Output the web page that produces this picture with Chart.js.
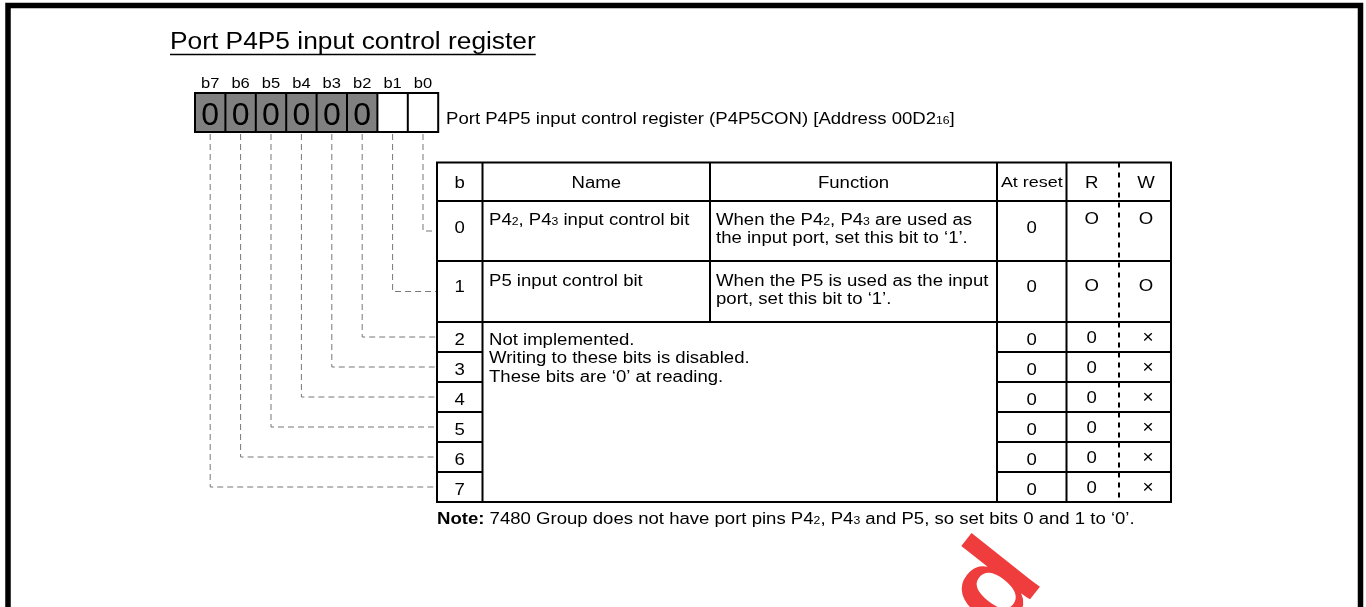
<!DOCTYPE html>
<html>
<head>
<meta charset="utf-8">
<script src="https://cdn.jsdelivr.net/npm/chart.js@4.4.0/dist/chart.umd.min.js"></script>
<style>
  html, body { margin: 0; padding: 0; background: #fff; overflow: hidden; }
  #wrap { width: 1366px; height: 607px; }
</style>
</head>
<body>
<div id="wrap"><canvas id="regChart"></canvas></div>
<script>
// register content ({n} = subscript)
const title = 'Port P4P5 input control register';
const regCaption = 'Port P4P5 input control register (P4P5CON) [Address 00D2{16}]';
const bitLabels = ['b7', 'b6', 'b5', 'b4', 'b3', 'b2', 'b1', 'b0'];
const bitFixed = ['0', '0', '0', '0', '0', '0', '', ''];
const headers = ['b', 'Name', 'Function', 'At reset', 'R', 'W'];
const rowBits = ['0', '1', '2', '3', '4', '5', '6', '7'];
const rowNames = ['P4{2}, P4{3} input control bit', 'P5 input control bit'];
const rowFunctions = [
  ['When the P4{2}, P4{3} are used as', 'the input port, set this bit to \u20181\u2019.'],
  ['When the P5 is used as the input', 'port, set this bit to \u20181\u2019.']
];
const reservedText = ['Not implemented.', 'Writing to these bits is disabled.', 'These bits are \u20180\u2019 at reading.'];
const atReset = ['0', '0', '0', '0', '0', '0', '0', '0'];
const readFlags = ['O', 'O', '0', '0', '0', '0', '0', '0'];
const writeFlags = ['O', 'O', '\u00d7', '\u00d7', '\u00d7', '\u00d7', '\u00d7', '\u00d7'];
const noteText = ' 7480 Group does not have port pins P4{2}, P4{3} and P5, so set bits 0 and 1 to \u20180\u2019.';

// layout (page units = pixels of the 1366x607 picture)
const FONT = '"Liberation Sans", Arial, sans-serif';
const SX = 1.16;  // the page is a little wider than tall, text stretched with it
const FS = 16;    // body text size
const regX0 = 195, regW = 30.4, regTop = 93, regBot = 132;
const colX = [437, 482.5, 710, 997, 1066.5, 1119, 1171];
const rowY = [162.5, 201, 261, 322, 352, 382, 412, 442, 472, 502];

function parts(str) {
  const out = [];
  const re = /\{([^}]*)\}/g;
  let last = 0, m;
  while ((m = re.exec(str))) {
    if (m.index > last) out.push([str.slice(last, m.index), false]);
    out.push([m[1], true]);
    last = re.lastIndex;
  }
  if (last < str.length) out.push([str.slice(last), false]);
  return out;
}

function drawText(ctx, str, x, y, size, align, bold, sx) {
  sx = sx || SX;
  const segs = parts(str);
  const f = s => (bold ? 'bold ' : '') + s + 'px ' + FONT;
  let w = 0;
  segs.forEach(p => { ctx.font = f(p[1] ? size * 0.66 : size); w += ctx.measureText(p[0]).width; });
  let x0 = x;
  if (align === 'center') x0 = x - w * sx / 2;
  if (align === 'right') x0 = x - w * sx;
  ctx.save();
  ctx.translate(x0, y + size * 0.36);
  ctx.scale(sx, 1);
  ctx.textBaseline = 'alphabetic';
  ctx.textAlign = 'left';
  ctx.fillStyle = '#000';
  let px = 0;
  segs.forEach(p => {
    ctx.font = f(p[1] ? size * 0.66 : size);
    ctx.fillText(p[0], px, p[1] ? size * 0.04 : 0);
    px += ctx.measureText(p[0]).width;
  });
  ctx.restore();
  return w * sx;
}

const registerPlugin = {
  id: 'registerPlugin',
  afterDraw(chart) {
    const ctx = chart.ctx;
    const xs = chart.scales.x, ys = chart.scales.y;
    const X = v => xs.getPixelForValue(v);
    const Y = v => ys.getPixelForValue(v);

    ctx.save();
    ctx.fillStyle = '#fff';
    ctx.fillRect(0, 0, chart.width, chart.height);

    // page frame
    ctx.strokeStyle = '#000';
    ctx.lineWidth = 5.5;
    ctx.beginPath();
    ctx.moveTo(X(8), Y(620));
    ctx.lineTo(X(8), Y(5.5));
    ctx.lineTo(X(1360.5), Y(5.5));
    ctx.lineTo(X(1360.5), Y(620));
    ctx.stroke();

    // title
    const tw = drawText(ctx, title, X(170), Y(41), 23.5, 'left', false, 1.12);
    ctx.lineWidth = 1.5;
    ctx.beginPath();
    ctx.moveTo(X(170), Y(54.5));
    ctx.lineTo(X(170) + tw, Y(54.5));
    ctx.stroke();

    // register boxes
    bitLabels.forEach((lab, i) => {
      const x0 = X(regX0 + i * regW), x1 = X(regX0 + (i + 1) * regW);
      ctx.fillStyle = bitFixed[i] !== '' ? '#808080' : '#fff';
      ctx.fillRect(x0, Y(regTop), x1 - x0, Y(regBot) - Y(regTop));
      drawText(ctx, lab, (x0 + x1) / 2, Y(83), 15, 'center', false, 1.1);
      if (bitFixed[i] !== '') drawText(ctx, bitFixed[i], (x0 + x1) / 2, Y(113), 32, 'center', false, 1.0);
    });
    ctx.strokeStyle = '#000';
    ctx.lineWidth = 2;
    ctx.strokeRect(X(regX0), Y(regTop), X(regX0 + 8 * regW) - X(regX0), Y(regBot) - Y(regTop));
    for (let i = 1; i < 8; i++) {
      ctx.beginPath();
      ctx.moveTo(X(regX0 + i * regW), Y(regTop));
      ctx.lineTo(X(regX0 + i * regW), Y(regBot));
      ctx.stroke();
    }
    drawText(ctx, regCaption, X(446), Y(118), FS, 'left');

    // leader lines from bits to rows
    ctx.strokeStyle = '#777';
    ctx.lineWidth = 1;
    ctx.setLineDash([6, 4]);
    bitLabels.forEach((lab, i) => {
      const bit = 7 - i;
      const cx = X(regX0 + (i + 0.5) * regW);
      const cy = Y((rowY[bit + 1] + rowY[bit + 2]) / 2);
      ctx.beginPath();
      ctx.moveTo(cx, Y(regBot + 2));
      ctx.lineTo(cx, cy);
      ctx.lineTo(X(colX[0]), cy);
      ctx.stroke();
    });
    ctx.setLineDash([]);

    // table grid
    ctx.strokeStyle = '#000';
    ctx.lineWidth = 2;
    const hl = (y, a, b) => { ctx.beginPath(); ctx.moveTo(X(a), Y(y)); ctx.lineTo(X(b), Y(y)); ctx.stroke(); };
    const vl = (x, a, b) => { ctx.beginPath(); ctx.moveTo(X(x), Y(a)); ctx.lineTo(X(x), Y(b)); ctx.stroke(); };
    const L = colX[0], R = colX[6], T = rowY[0], B = rowY[9];
    ctx.strokeRect(X(L), Y(T), X(R) - X(L), Y(B) - Y(T));
    hl(rowY[1], L, R);
    hl(rowY[2], L, R);
    hl(rowY[3], L, R);
    for (let r = 4; r < 9; r++) { hl(rowY[r], L, colX[1]); hl(rowY[r], colX[3], R); }
    vl(colX[1], T, B);
    vl(colX[2], T, rowY[3]);
    vl(colX[3], T, B);
    vl(colX[4], T, B);
    ctx.setLineDash([5, 5]);
    vl(colX[5], T, B);
    ctx.setLineDash([]);

    // header
    const hy = (rowY[0] + rowY[1]) / 2;
    const colC = c => X((colX[c] + colX[c + 1]) / 2);
    const wC = X((colX[5] + colX[6]) / 2);
    drawText(ctx, headers[0], colC(0), Y(hy), FS, 'center');
    drawText(ctx, headers[1], colC(1), Y(hy), FS, 'center');
    drawText(ctx, headers[2], colC(2), Y(hy), FS, 'center');
    drawText(ctx, headers[3], colC(3), Y(hy), 14, 'center', false, 1.28);
    drawText(ctx, headers[4], colC(4) - 1, Y(hy), FS, 'center');
    drawText(ctx, headers[5], wC + 1, Y(hy), FS, 'center');

    // bits 0 and 1
    const numY = [227, 286], nameY = [219, 280], flagY = [218, 285];
    for (let r = 0; r < 2; r++) {
      drawText(ctx, rowBits[r], colC(0), Y(numY[r]), FS, 'center');
      drawText(ctx, rowNames[r], X(colX[1] + 6.5), Y(nameY[r]), FS, 'left');
      rowFunctions[r].forEach((ln, k) => drawText(ctx, ln, X(colX[2] + 6), Y(nameY[r] + k * 18), FS, 'left'));
      drawText(ctx, atReset[r], colC(3), Y(numY[r]), FS, 'center');
      drawText(ctx, readFlags[r], colC(4) - 1, Y(flagY[r]), FS, 'center');
      drawText(ctx, writeFlags[r], wC + 1, Y(flagY[r]), FS, 'center');
    }

    // reserved bits 2..7
    reservedText.forEach((ln, k) => drawText(ctx, ln, X(colX[1] + 6.5), Y(339 + k * 18.5), FS, 'left'));
    for (let r = 2; r < 8; r++) {
      const cy = (rowY[r + 1] + rowY[r + 2]) / 2;
      drawText(ctx, rowBits[r], colC(0), Y(cy + 2), FS, 'center');
      drawText(ctx, atReset[r], colC(3), Y(cy + 2), FS, 'center');
      drawText(ctx, readFlags[r], colC(4) - 1, Y(cy), FS, 'center');
      drawText(ctx, writeFlags[r], wC + 3, Y(cy - 1), 19, 'center', false, 1.0);
    }

    // note
    const nw = drawText(ctx, 'Note:', X(437), Y(518), FS, 'left', true);
    drawText(ctx, noteText, X(437) + nw, Y(518), FS, 'left');

    // watermark fragment
    ctx.save();
    ctx.translate(X(1020), Y(612));
    ctx.rotate(-0.9);
    ctx.font = 'bold 120px ' + FONT;
    ctx.fillStyle = 'rgba(238,45,45,0.92)';
    ctx.textAlign = 'right';
    ctx.fillText('d', 40, 0);
    ctx.restore();

    ctx.restore();
  }
};

new Chart(document.getElementById('regChart'), {
  type: 'scatter',
  data: { datasets: [{ data: [], pointRadius: 0 }] },
  options: {
    responsive: true,
    maintainAspectRatio: false,
    animation: false,
    layout: { padding: 0 },
    plugins: { legend: { display: false }, tooltip: { enabled: false } },
    scales: {
      x: { type: 'linear', min: 0, max: 1366, display: false },
      y: { type: 'linear', min: 0, max: 607, reverse: true, display: false }
    }
  },
  plugins: [registerPlugin]
});
</script>
</body>
</html>
